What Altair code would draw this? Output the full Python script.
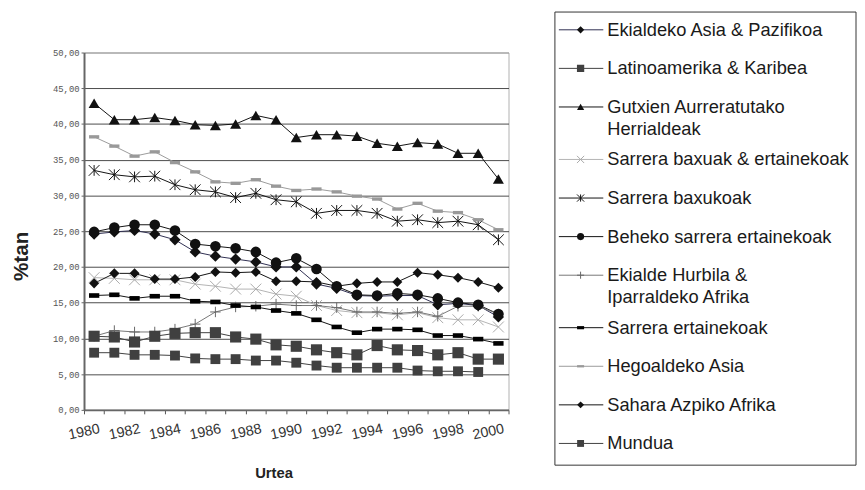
import altair as alt
import pandas as pd

years = list(range(1980, 2001))

series_names = [
    "Ekialdeko Asia & Pazifikoa",
    "Latinoamerika & Karibea",
    "Gutxien Aurreratutako Herrialdeak",
    "Sarrera baxuak & ertainekoak",
    "Sarrera baxukoak",
    "Beheko sarrera ertainekoak",
    "Ekialde Hurbila & Iparraldeko Afrika",
    "Sarrera ertainekoak",
    "Hegoaldeko  Asia",
    "Sahara Azpiko Afrika",
    "Mundua",
]
legend_lines = [
    ["Ekialdeko Asia & Pazifikoa", ""],
    ["Latinoamerika & Karibea", ""],
    ["Gutxien Aurreratutako", "Herrialdeak"],
    ["Sarrera baxuak & ertainekoak", ""],
    ["Sarrera baxukoak", ""],
    ["Beheko sarrera ertainekoak", ""],
    ["Ekialde Hurbila &", "Iparraldeko Afrika"],
    ["Sarrera ertainekoak", ""],
    ["Hegoaldeko  Asia", ""],
    ["Sahara Azpiko Afrika", ""],
    ["Mundua", ""],
]

ekialdeko = [24.6, 24.9, 25.1, 24.6, 23.8, 22.1, 21.5, 21.1, 20.7, 20.0, 20.0,
             17.6, 17.0, 16.0, 15.9, 16.0, 16.0, 14.7, 14.9, 14.6, 13.0]
latino = [10.3, 10.2, 9.5, 10.3, 10.7, 10.8, 10.8, 10.2, 9.9, 9.1, 8.9,
          8.4, 8.0, 7.7, 9.0, 8.4, 8.3, 7.7, 8.0, 7.1, 7.1]
gutxien = [42.9, 40.6, 40.6, 40.9, 40.5, 39.9, 39.8, 40.0, 41.2, 40.6, 38.1,
           38.5, 38.5, 38.3, 37.3, 36.9, 37.4, 37.2, 35.9, 35.9, 32.3]
baxuak_ertain = [18.5, 18.4, 18.2, 18.2, 18.2, 17.6, 17.3, 16.9, 16.9, 16.2, 15.9,
                 14.6, 13.9, 13.6, 13.6, 13.3, 13.6, 12.9, 12.6, 12.6, 11.6]
baxukoak = [33.5, 32.9, 32.6, 32.7, 31.5, 30.8, 30.5, 29.7, 30.3, 29.4, 29.1,
            27.5, 27.9, 27.9, 27.5, 26.4, 26.6, 26.2, 26.4, 25.9, 23.8]
beheko = [24.9, 25.5, 25.9, 25.9, 25.1, 23.2, 22.9, 22.6, 22.1, 20.6, 21.2,
          19.7, 17.3, 16.1, 16.0, 16.3, 16.1, 15.6, 15.0, 14.7, 13.4]
hurbila = [10.3, 11.1, 10.9, 10.9, 11.3, 12.0, 13.7, 14.4, 14.5, 14.8, 14.6,
           14.6, 14.3, 13.7, 13.7, 13.5, 13.7, 13.1, 14.5, 14.5, 13.4]
ertainekoak = [16.0, 16.1, 15.6, 15.9, 15.9, 15.2, 15.1, 14.6, 14.4, 13.9, 13.5,
               12.6, 11.6, 10.8, 11.3, 11.3, 11.2, 10.4, 10.4, 9.9, 9.3]
hegoaldeko = [38.2, 36.9, 35.5, 36.1, 34.6, 33.3, 31.9, 31.7, 32.2, 31.3, 30.7,
              30.9, 30.5, 29.9, 29.5, 28.1, 28.9, 27.8, 27.6, 26.6, 25.2]
sahara = [17.7, 19.1, 19.1, 18.3, 18.3, 18.6, 19.3, 19.2, 19.3, 18.0, 18.0,
          17.9, 17.3, 17.7, 17.9, 17.9, 19.2, 18.9, 18.5, 17.9, 17.1]
mundua = [8.0, 8.0, 7.7, 7.7, 7.6, 7.2, 7.1, 7.1, 6.9, 6.9, 6.6,
          6.2, 5.9, 5.9, 5.9, 5.9, 5.5, 5.4, 5.4, 5.3]

all_values = [ekialdeko, latino, gutxien, baxuak_ertain, baxukoak, beheko,
              hurbila, ertainekoak, hegoaldeko, sahara, mundua]

# styles
line_colors = ["#2e2e50", "#404040", "#111111", "#b3b3b3", "#111111", "#111111",
               "#777777", "#111111", "#9a9a9a", "#111111", "#404040"]
marker_colors = ["#111111", "#404040", "#111111", "#aaaaaa", "#111111", "#111111",
                 "#666666", "#000000", "#999999", "#111111", "#404040"]
star = "M-1,-1L1,1M-1,1L1,-1M0,-1L0,1"
xmark = "M-1,-1L1,1M-1,1L1,-1"
plus = "M-1,0L1,0M0,-1L0,1"
dash_small = "M-1,-0.45L1,-0.45L1,0.45L-1,0.45Z"
dash_wide = "M-1,-0.33L1,-0.33L1,0.33L-1,0.33Z"
shapes = ["diamond", "square", "triangle-up", xmark, star, "circle",
          plus, dash_small, dash_wide, "diamond", "square"]
is_filled = [True, True, True, False, False, True, False, True, True, True, True]
sizes = [130, 100, 160, 110, 130, 150, 110, 50, 90, 130, 100]
legend_sizes = [55, 49, 55, 70, 55, 75, 40, 30, 45, 55, 49]

rows = []
for name, vals in zip(series_names, all_values):
    for yr, v in zip(years, vals):
        rows.append({"series": name, "year": yr, "value": v})
df = pd.DataFrame(rows)

# legend row position: one slot per item, plus a little extra after two-line items
extra = 0.36
row_pos, n_two = [], 0
for k, l in enumerate(legend_lines):
    row_pos.append(k + extra * n_two)
    if l[1]:
        n_two += 1
leg = pd.DataFrame({
    "series": series_names,
    "row": row_pos,
    "l1": [l[0] for l in legend_lines],
    "l2": [l[1] for l in legend_lines],
})

filled_names = [n for n, f in zip(series_names, is_filled) if f]
stroked_names = [n for n, f in zip(series_names, is_filled) if not f]

color_scale = alt.Scale(domain=series_names, range=line_colors)
marker_scale = alt.Scale(domain=series_names, range=marker_colors)
shape_scale = alt.Scale(domain=series_names, range=shapes)
size_scale = alt.Scale(domain=series_names, range=sizes)
lsize_scale = alt.Scale(domain=series_names, range=legend_sizes)

W, H = 430, 362
half_years = [y - 0.5 for y in years] + [years[-1] + 0.5]

x_enc = alt.X(
    "year:Q",
    scale=alt.Scale(domain=[1979.5, 2000.5], nice=False, zero=False),
    axis=alt.Axis(
        values=half_years, grid=False, tickSize=4, tickColor="#555",
        domainColor="#666", domainWidth=2,
        labelExpr="((datum.value + 0.5) % 2 == 0 && datum.value < 2000) ? format(datum.value + 0.5, 'd') : ''",
        labelAngle=-12, labelAlign="right", labelBaseline="top",
        labelOffset=14, labelPadding=8, labelOverlap=False, labelFlush=False,
        labelFont="Liberation Sans", labelFontSize=14.5, labelColor="#333",
        title="Urtea", titleFont="Liberation Sans", titleFontSize=15,
        titleFontWeight="bold", titleColor="#222", titleX=192, titleY=57,
        titleBaseline="top", titleAlign="center",
    ),
)
y_enc = alt.Y(
    "value:Q",
    scale=alt.Scale(domain=[0, 50], nice=False),
    axis=alt.Axis(
        values=list(range(0, 51, 5)), grid=True,
        gridColor=alt.condition("datum.value == 50", alt.value("#999999"), alt.value("#4a4a4a")),
        gridWidth=1, tickSize=3, tickColor="#666", domainColor="#666", domainWidth=2,
        labelExpr="replace(format(datum.value, '.2f'), '.', ',')",
        labelFont="Liberation Mono", labelFontSize=9, labelColor="#555", labelPadding=2,
        title="%tan", titleFont="Liberation Sans", titleFontSize=21, titleFontWeight="bold",
        titleColor="#222", titleAngle=270, titleX=-63, titleY=206,
        titleAlign="center", titleBaseline="middle",
    ),
)

lines = alt.Chart(df).mark_line(strokeWidth=1).encode(
    x=x_enc, y=y_enc,
    color=alt.Color("series:N", scale=color_scale, legend=None),
    order="year:Q",
)
pts_f = alt.Chart(df).mark_point(filled=True, opacity=1).encode(
    x=x_enc, y=y_enc,
    fill=alt.Fill("series:N", scale=marker_scale, legend=None),
    shape=alt.Shape("series:N", scale=shape_scale, legend=None),
    size=alt.Size("series:N", scale=size_scale, legend=None),
).transform_filter(alt.FieldOneOfPredicate(field="series", oneOf=filled_names))
pts_s = alt.Chart(df).mark_point(filled=False, opacity=1, strokeWidth=1).encode(
    x=x_enc, y=y_enc,
    stroke=alt.Stroke("series:N", scale=marker_scale, legend=None),
    shape=alt.Shape("series:N", scale=shape_scale, legend=None),
    size=alt.Size("series:N", scale=size_scale, legend=None),
).transform_filter(alt.FieldOneOfPredicate(field="series", oneOf=stroked_names))

main = alt.layer(lines, pts_s, pts_f)

row_y = alt.Y("row:Q", scale=alt.Scale(domain=[0, 10 + 2 * extra], range=[-23, 396],
                                       nice=False, zero=False), axis=None)

box = alt.Chart(pd.DataFrame({"k": [0]})).mark_rect(fill="white", stroke="#333", strokeWidth=1).encode(
    x=alt.value(477), x2=alt.value(782), y=alt.value(-41), y2=alt.value(418)
)
leg_rules = alt.Chart(leg).mark_rule(strokeWidth=1).encode(
    x=alt.value(481), x2=alt.value(526), y=row_y,
    color=alt.Color("series:N", scale=color_scale, legend=None),
)
leg_pf = alt.Chart(leg).mark_point(filled=True, opacity=1).encode(
    x=alt.value(503), y=row_y,
    fill=alt.Fill("series:N", scale=marker_scale, legend=None),
    shape=alt.Shape("series:N", scale=shape_scale, legend=None),
    size=alt.Size("series:N", scale=lsize_scale, legend=None),
).transform_filter(alt.FieldOneOfPredicate(field="series", oneOf=filled_names))
leg_ps = alt.Chart(leg).mark_point(filled=False, opacity=1, strokeWidth=1).encode(
    x=alt.value(503), y=row_y,
    stroke=alt.Stroke("series:N", scale=marker_scale, legend=None),
    shape=alt.Shape("series:N", scale=shape_scale, legend=None),
    size=alt.Size("series:N", scale=lsize_scale, legend=None),
).transform_filter(alt.FieldOneOfPredicate(field="series", oneOf=stroked_names))
leg_t1 = alt.Chart(leg).mark_text(align="left", baseline="middle", font="Liberation Sans",
                                  fontSize=18.5, color="#1a1a1a").encode(
    x=alt.value(530), y=row_y, text="l1:N"
)
leg_t2 = alt.Chart(leg).mark_text(align="left", baseline="middle", font="Liberation Sans",
                                  fontSize=18.5, color="#1a1a1a", dy=22).encode(
    x=alt.value(530), y=row_y, text="l2:N"
).transform_filter("datum.l2 != ''")

legend = alt.layer(box, leg_rules, leg_ps, leg_pf, leg_t1, leg_t2)

chart = alt.layer(main, legend).resolve_scale(y="independent", size="independent").properties(
    width=W, height=H, padding={"left": 3, "top": 0, "right": 0, "bottom": 0},
    background="white",
).configure_view(stroke="#b0b0b0", strokeWidth=1)

chart.save("out.html", embed_options={"renderer": "svg", "actions": False})
